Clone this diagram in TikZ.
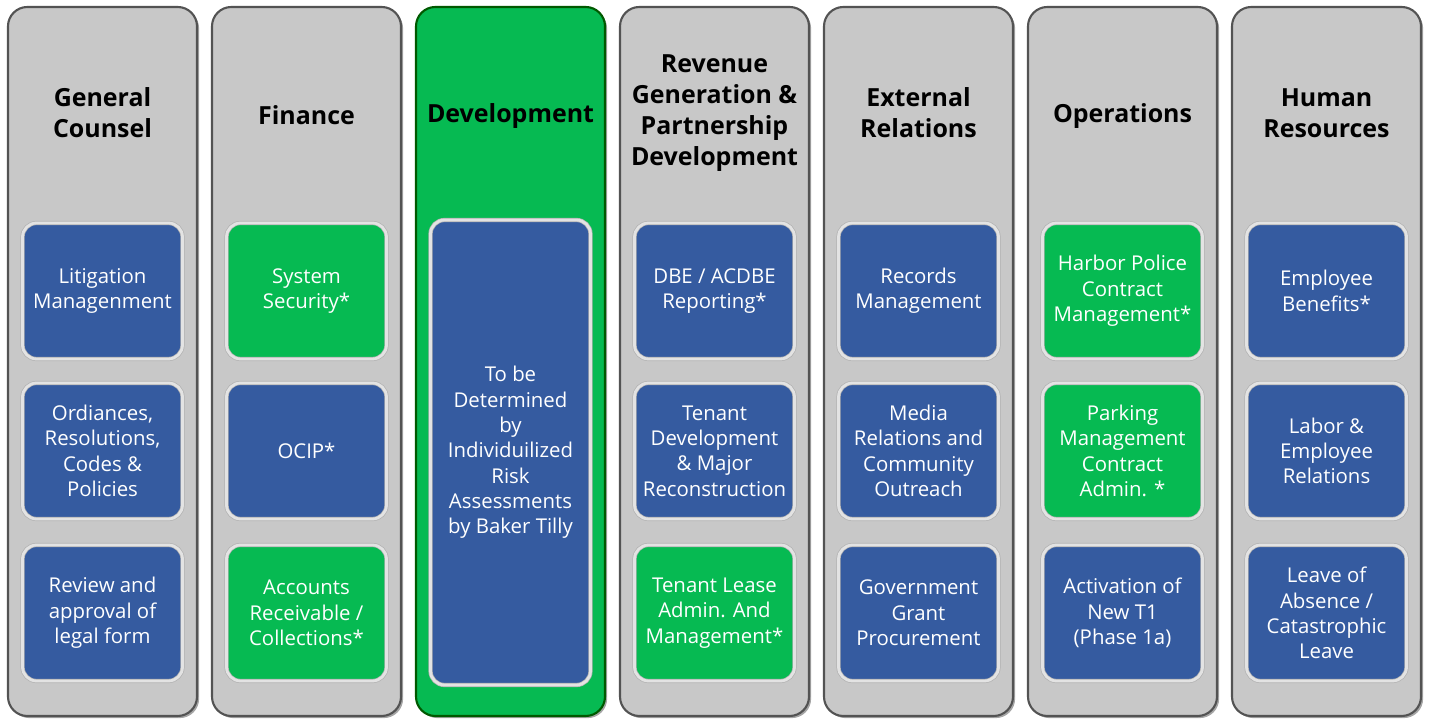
\documentclass[tikz,border=0pt]{standalone}
\usepackage{fontspec}
\setmainfont{Open Sans}
\usepackage{xcolor}
\usetikzlibrary{shadows}
\definecolor{colgray}{RGB}{200,200,200}
\definecolor{boxblue}{RGB}{53,91,160}
\definecolor{boxgreen}{RGB}{6,186,82}
\tikzset{
  column/.style   = { draw=gray!65!black, line width=1.2pt, fill=colgray, rounded corners=11pt,
                      minimum width=3.78cm, minimum height=14.18cm,
                      drop shadow={shadow xshift=1.2pt, shadow yshift=-1.2pt, fill=gray!60!black, opacity=0.5} },
  devcolumn/.style = { column, fill=boxgreen, draw=green!35!black },
  title/.style    = { font=\fontsize{14.2}{17.6}\selectfont\bfseries, align=center, text=black },
  task/.style     = { draw=gray!60, double=gray!22, double distance=1.6pt, rounded corners=8pt,
                      fill=boxblue, minimum width=3.2cm, minimum height=2.72cm,
                      font=\fontsize{11.6}{14.4}\selectfont, text=white, align=center },
  taskg/.style    = { task, fill=boxgreen }
}
\begin{document}
\begin{tikzpicture}
  \useasboundingbox (0,0) rectangle (28.58,14.38);

  % Draw all columns
  \node[column]    (gc)  at (2.05,7.15)  {};
  \node[column]    (fin) at (6.13,7.15)  {};
  \node[devcolumn] (dev) at (10.21,7.15) {};
  \node[column]    (rev) at (14.29,7.15) {};
  \node[column]    (ext) at (18.37,7.15) {};
  \node[column]    (ops) at (22.45,7.15) {};
  \node[column]    (hr)  at (26.53,7.15) {};

  % Draw titles
  \node[title] (gc-t)  at (2.05,12.12)  {General\\Counsel};
  \node[title] (fin-t) at (6.13,12.08)  {Finance};
  \node[title] (dev-t) at (10.21,12.05) {Development};
  \node[title] (rev-t) at (14.29,12.12) {Revenue\\Generation \&\\Partnership\\Development};
  \node[title] (ext-t) at (18.37,12.12) {External\\Relations};
  \node[title] (ops-t) at (22.45,12.05) {Operations};
  \node[title] (hr-t)  at (26.53,12.12) {Human\\Resources};

  % General Counsel
  \node[task] (gc1) at (2.05,8.56) {Litigation\\Managenment};
  \node[task] (gc2) at (2.05,5.36) {Ordiances,\\Resolutions,\\Codes \&\\Policies};
  \node[task] (gc3) at (2.05,2.12) {Review and\\approval of\\legal form};

  % Finance
  \node[taskg] (fin1) at (6.13,8.56) {System\\Security*};
  \node[task]  (fin2) at (6.13,5.36) {OCIP*};
  \node[taskg] (fin3) at (6.13,2.12) {Accounts\\Receivable /\\Collections*};

  % Development
  \node[task, minimum height=9.3cm] (dev1) at (10.21,5.33)
       {To be\\Determined\\by\\Individuilized\\Risk\\Assessments\\by Baker Tilly};

  % Revenue Generation
  \node[task]  (rev1) at (14.29,8.56) {DBE / ACDBE\\Reporting*};
  \node[task]  (rev2) at (14.29,5.36) {Tenant\\Development\\\& Major\\Reconstruction};
  \node[taskg] (rev3) at (14.29,2.12) {Tenant Lease\\Admin. And\\Management*};

  % External Relations
  \node[task] (ext1) at (18.37,8.56) {Records\\Management};
  \node[task] (ext2) at (18.37,5.36) {Media\\Relations and\\Community\\Outreach};
  \node[task] (ext3) at (18.37,2.12) {Government\\Grant\\Procurement};

  % Operations
  \node[taskg] (ops1) at (22.45,8.56) {Harbor Police\\Contract\\Management*};
  \node[taskg] (ops2) at (22.45,5.36) {Parking\\Management\\Contract\\Admin. *};
  \node[task]  (ops3) at (22.45,2.12) {Activation of\\New T1\\(Phase 1a)};

  % Human Resources
  \node[task] (hr1) at (26.53,8.56) {Employee\\Benefits*};
  \node[task] (hr2) at (26.53,5.36) {Labor \&\\Employee\\Relations};
  \node[task] (hr3) at (26.53,2.12) {Leave of\\Absence /\\Catastrophic\\Leave};
\end{tikzpicture}
\end{document}
